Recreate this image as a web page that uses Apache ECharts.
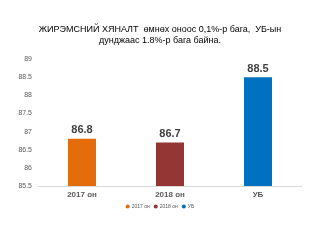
<!DOCTYPE html>
<html>
<head>
<meta charset="utf-8">
<script src="https://cdn.jsdelivr.net/npm/echarts@6/dist/echarts.min.js"></script>
<style>
  html, body { margin: 0; padding: 0; background: #fff; }
  #echarts { width: 320px; height: 240px; }
</style>
</head>
<body>
<div id="echarts"></div>
<script>
// 数据
var categories = ['2017 он', '2018 он', 'УБ'];
var values = [86.8, 86.7, 88.5];
var colors = ['#E46C0A', '#943634', '#0070C0'];
var titleLines = ['ЖИРЭМСНИЙ ХЯНАЛТ  өмнөх оноос 0,1%-р бага,  УБ-ын', 'дунджаас 1.8%-р бага байна.'];

var myChart = echarts.init(document.getElementById('echarts'));

// one series per category so that the legend shows each colour
var series = categories.map(function (name, i) {
    var data = values.map(function (v, j) { return j === i ? v : '-'; });
    return {
        name: name,
        type: 'bar',
        stack: 'all',
        barWidth: 28,
        data: data,
        itemStyle: { color: colors[i] },
        label: {
            show: true,
            position: 'top',
            distance: 3,
            color: '#404040',
            fontSize: 11,
            fontWeight: 'bold',
            fontFamily: 'Liberation Sans'
        }
    };
});

var option = {
    title: {
        text: titleLines.join('\n'),
        left: 'center',
        top: 19,
        textStyle: {
            fontSize: 9,
            fontWeight: 'normal',
            color: '#000',
            fontFamily: 'Liberation Sans',
            lineHeight: 11
        }
    },
    legend: {
        data: categories,
        bottom: 26,
        left: 'center',
        icon: 'circle',
        itemWidth: 4,
        itemHeight: 4,
        itemGap: 4,
        textStyle: { fontSize: 5, color: '#595959', fontFamily: 'Liberation Sans', padding: [0, 0, 0, -3] }
    },
    grid: { left: 38, right: 18, top: 59, bottom: 54 },
    xAxis: {
        type: 'category',
        data: categories,
        axisLine: { lineStyle: { color: '#d9d9d9' } },
        axisTick: { show: false },
        axisLabel: { fontSize: 8, fontWeight: 'bold', color: '#595959', fontFamily: 'Liberation Sans', margin: 5 }
    },
    yAxis: {
        type: 'value',
        min: 85.5,
        max: 89,
        interval: 0.5,
        axisLine: { show: false },
        axisTick: { show: false },
        splitLine: { show: false },
        axisLabel: { fontSize: 7, color: '#595959', fontFamily: 'Liberation Sans', margin: 6 }
    },
    series: series
};

myChart.setOption(option);
</script>
</body>
</html>
